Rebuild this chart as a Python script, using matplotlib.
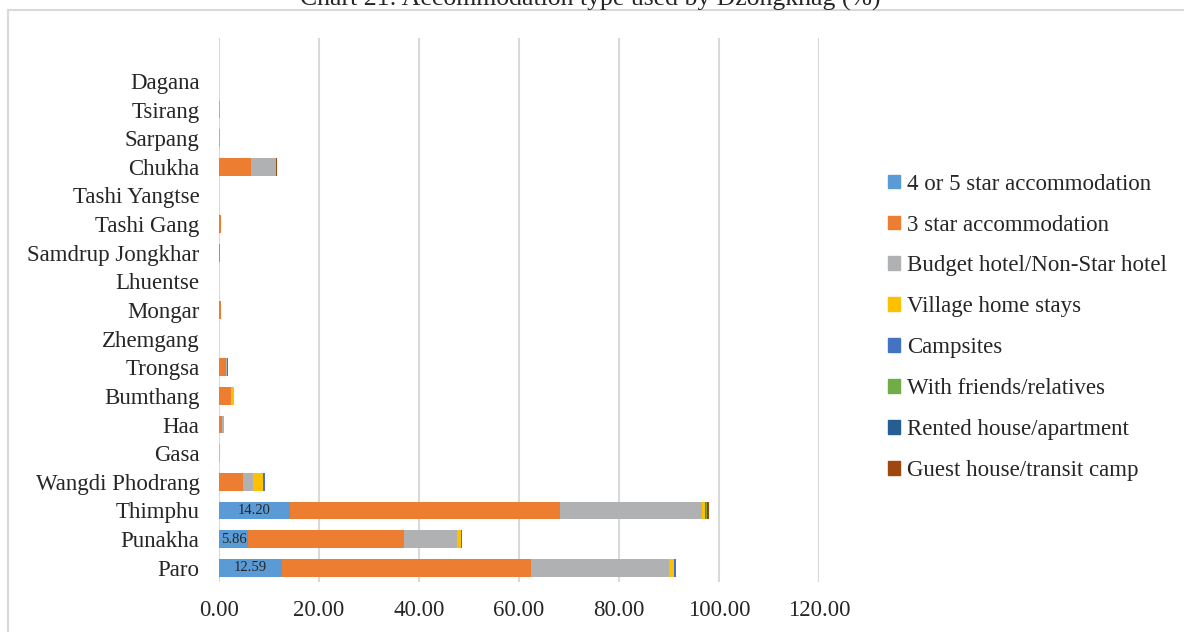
import numpy as np
import matplotlib
matplotlib.use('Agg')
import matplotlib.pyplot as plt
from matplotlib.lines import Line2D

plt.rcParams['font.family'] = ['Liberation Serif', 'DejaVu Serif']

# Dzongkhags, bottom to top
dzongkhags = ["Paro", "Punakha", "Thimphu", "Wangdi Phodrang", "Gasa", "Haa",
              "Bumthang", "Trongsa", "Zhemgang", "Mongar", "Lhuentse",
              "Samdrup Jongkhar", "Tashi Gang", "Tashi Yangtse", "Chukha",
              "Sarpang", "Tsirang", "Dagana"]

series_names = ["4 or 5 star accommodation", "3 star accommodation",
                "Budget hotel/Non-Star hotel", "Village home stays", "Campsites",
                "With friends/relatives", "Rented house/apartment",
                "Guest house/transit camp"]

star45   = [12.59, 5.86, 14.20, 0.0, 0.0, 0.0, 0.0, 0.0, 0.0, 0.0, 0.0, 0.0, 0.0, 0.0, 0.0, 0.0, 0.0, 0.0]
star3    = [49.80, 31.10, 54.00, 4.80, 0.0, 0.60, 2.40, 1.30, 0.0, 0.30, 0.0, 0.15, 0.40, 0.0, 6.40, 0.0, 0.0, 0.0]
budget   = [27.70, 10.70, 28.30, 2.00, 0.0, 0.40, 0.0, 0.30, 0.0, 0.0, 0.0, 0.05, 0.0, 0.0, 5.00, 0.10, 0.20, 0.0]
village  = [1.00, 0.70, 0.70, 2.00, 0.20, 0.0, 0.60, 0.0, 0.0, 0.0, 0.0, 0.0, 0.0, 0.0, 0.0, 0.0, 0.0, 0.0]
campsite = [0.40, 0.20, 0.10, 0.40, 0.0, 0.0, 0.0, 0.20, 0.0, 0.0, 0.0, 0.0, 0.0, 0.0, 0.0, 0.0, 0.0, 0.0]
friends  = [0.0, 0.0, 0.30, 0.0, 0.0, 0.0, 0.0, 0.0, 0.0, 0.0, 0.0, 0.0, 0.0, 0.0, 0.0, 0.0, 0.0, 0.0]
rented   = [0.0, 0.0, 0.20, 0.0, 0.0, 0.0, 0.0, 0.0, 0.0, 0.0, 0.0, 0.0, 0.0, 0.0, 0.0, 0.0, 0.0, 0.0]
guest    = [0.0, 0.0, 0.10, 0.0, 0.0, 0.0, 0.0, 0.0, 0.0, 0.0, 0.0, 0.0, 0.0, 0.0, 0.20, 0.0, 0.0, 0.0]

colors = ["#5B9BD5", "#ED7D31", "#B0B1B3", "#FFC000", "#4472C4",
          "#70AD47", "#255E91", "#9E480E"]

xticks = [0, 20, 40, 60, 80, 100, 120]

fig = plt.figure(figsize=(11.84, 6.32), dpi=100)
ax = fig.add_axes([219 / 1184, 1 - 582 / 632, 600 / 1184, 544 / 632])

y = np.arange(len(dzongkhags))
left = np.zeros(len(dzongkhags))
all_series = [star45, star3, budget, village, campsite, friends, rented, guest]
for name, vals, col in zip(series_names, all_series, colors):
    vals = np.array(vals)
    ax.barh(y, vals, left=left, height=0.62, color=col, label=name, zorder=3)
    left += vals

# value labels on the 4/5 star segments
for i, v in enumerate(star45):
    if v > 0:
        ax.text(v / 2, i, f"{v:.2f}", ha='center', va='center', fontsize=10.5,
                color='#262626', zorder=4)

ax.set_xlim(0, 120)
ax.set_ylim(-0.5, len(dzongkhags) + 0.5)
ax.set_xticks(xticks)
ax.set_xticklabels([f"{t:.2f}" for t in xticks])
ax.set_yticks(y)
ax.set_yticklabels(dzongkhags)
ax.tick_params(axis='x', length=0, pad=13, labelsize=16.5, colors='#262626')
ax.tick_params(axis='y', length=0, pad=14, labelsize=16.5, colors='#262626')
ax.grid(axis='x', color='#D9D9D9', linewidth=1.5, zorder=0)
for s in ax.spines.values():
    s.set_visible(False)

handles = [plt.Rectangle((0, 0), 1, 1, color=c) for c in colors]
fig.legend(handles, series_names, loc='upper left',
           bbox_to_anchor=(867 / 1184, 1 - 153 / 632), frameon=False,
           fontsize=16.5, handlelength=0.55, handleheight=0.55, handletextpad=0.3,
           labelspacing=0.87, labelcolor='#262626')

# chart border
fig.add_artist(Line2D([7.5 / 1184, 1], [1 - 9.5 / 632, 1 - 9.5 / 632],
                      color='#D9D9D9', linewidth=1.5))
fig.add_artist(Line2D([7.5 / 1184, 7.5 / 1184], [0, 1 - 9.5 / 632],
                      color='#D9D9D9', linewidth=1.5))

fig.text(590 / 1184, 1 + 1 / 632, "Chart 21: Accommodation type used by Dzongkhag (%)",
         ha='center', va='center', fontsize=18.5, color='#262626')

fig.savefig("out.png", dpi=100)
